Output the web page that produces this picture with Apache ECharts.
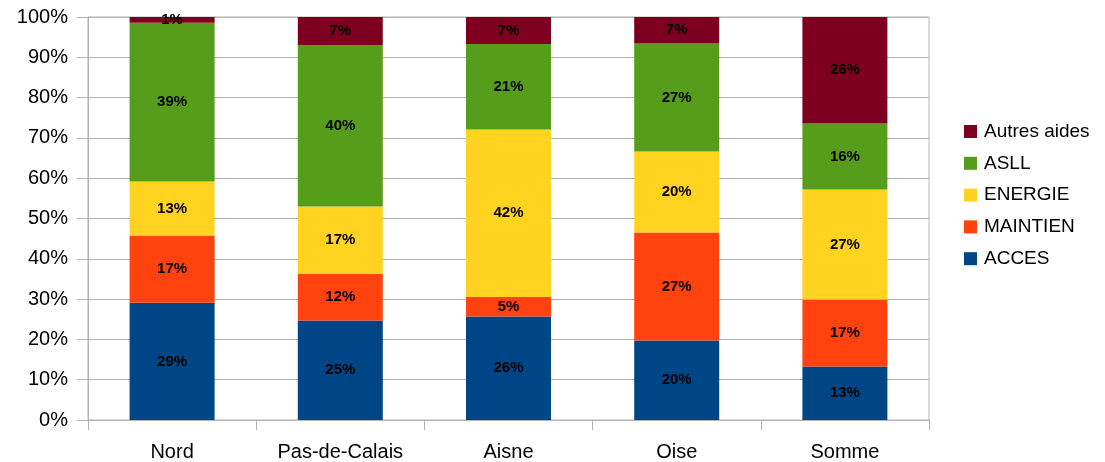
<!DOCTYPE html>
<html>
<head>
<meta charset="utf-8">
<script src="https://cdn.jsdelivr.net/npm/echarts@6/dist/echarts.min.js"></script>
<style>html,body{margin:0;padding:0;background:#fff}#c{width:1105px;height:462px}</style>
</head>
<body>
<div id="c"></div>
<script>
const categories = ['Nord', 'Pas-de-Calais', 'Aisne', 'Oise', 'Somme'];
const acces    = [29.1, 24.7, 25.7, 19.7, 13.3];
const maintien = [16.7, 11.6, 4.8, 26.8, 16.6];
const energie  = [13.4, 16.7, 41.6, 20.1, 27.3];
const asll     = [39.4, 40.0, 21.2, 26.8, 16.4];
const autres   = [1.4, 7.0, 6.7, 6.6, 26.4];
const yTicks = [0, 10, 20, 30, 40, 50, 60, 70, 80, 90, 100];

const FONT = '"Liberation Sans", Arial, sans-serif';
const mk = (name, data, color) => ({
  name, type: 'bar', stack: 'total', data, barWidth: 85,
  itemStyle: { color },
  label: {
    show: true, position: 'inside', color: '#000', fontFamily: FONT,
    fontWeight: 'bold', fontSize: 15,
    formatter: p => Math.round(p.value) + '%'
  }
});

const chart = echarts.init(document.getElementById('c'));
chart.setOption({
  animation: false,
  backgroundColor: '#fff',
  grid: { left: 88, right: 176, top: 17, bottom: 41, show: true, borderColor: '#b3b3b3', borderWidth: 1 },
  legend: {
    orient: 'vertical', left: 959, top: 117,
    itemWidth: 13, itemHeight: 13, itemGap: 12.8, icon: 'rect',
    data: ['Autres aides', 'ASLL', 'ENERGIE', 'MAINTIEN', 'ACCES'],
    textStyle: { fontFamily: FONT, fontSize: 19, lineHeight: 18, color: '#000', padding: [0, 0, 0, 2] }
  },
  xAxis: {
    type: 'category', data: categories,
    axisLine: { lineStyle: { color: '#b3b3b3' } },
    axisTick: { show: true, length: 10, lineStyle: { color: '#b3b3b3' } },
    axisLabel: { fontFamily: FONT, fontSize: 20, color: '#000', margin: 22 }
  },
  yAxis: {
    type: 'value', min: 0, max: 100, interval: 10,
    axisLine: { show: true, lineStyle: { color: '#b3b3b3' } },
    axisTick: { show: true, length: 11, lineStyle: { color: '#b3b3b3' } },
    splitLine: { lineStyle: { color: '#b3b3b3' } },
    axisLabel: {
      fontFamily: FONT, fontSize: 20, color: '#000', margin: 20,
      formatter: v => yTicks.includes(v) ? v + '%' : ''
    }
  },
  series: [
    mk('ACCES', acces, '#004586'),
    mk('MAINTIEN', maintien, '#ff420e'),
    mk('ENERGIE', energie, '#ffd320'),
    mk('ASLL', asll, '#579d1c'),
    mk('Autres aides', autres, '#7e0021')
  ]
});
</script>
</body>
</html>
